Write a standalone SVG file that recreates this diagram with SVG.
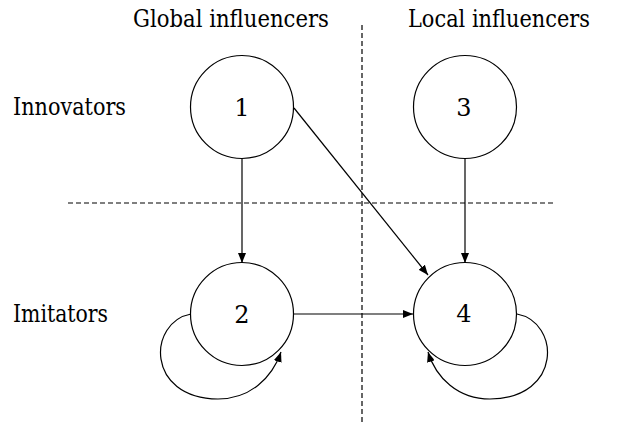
<svg xmlns="http://www.w3.org/2000/svg" width="626" height="426" viewBox="0 0 626 426">
  <defs>
    <marker id="arrow" viewBox="0 0 10 8" refX="10" refY="4" markerWidth="10" markerHeight="8" markerUnits="userSpaceOnUse" orient="auto">
      <path d="M0,0 L10,4 L0,8 Z" fill="#000"/>
    </marker>
  </defs>
  <style>
    .node circle { fill: #fff; stroke: #000; stroke-width: 1.2; }
    .edge { fill: none; stroke: #000; stroke-width: 1.2; marker-end: url(#arrow); }
    .divider { stroke: #000; stroke-width: 1.2; stroke-dasharray: 5,3; fill: none; }
    text { font-family: "DejaVu Serif", serif; fill: #000; }
  </style>
  <rect width="626" height="426" fill="#fff"/>

  <!-- quadrant dividers -->
  <g id="dividers">
    <line class="divider" x1="362" y1="25" x2="362" y2="422"/>
    <line class="divider" x1="68" y1="203" x2="556" y2="203"/>
  </g>

  <!-- axis labels -->
  <g id="labels" font-size="23.5">
    <text x="133" y="27" textLength="196" lengthAdjust="spacingAndGlyphs">Global influencers</text>
    <text x="408" y="27" textLength="182" lengthAdjust="spacingAndGlyphs">Local influencers</text>
    <text x="13" y="115" textLength="113" lengthAdjust="spacingAndGlyphs">Innovators</text>
    <text x="13" y="322" textLength="95" lengthAdjust="spacingAndGlyphs">Imitators</text>
  </g>

  <!-- connectors -->
  <g id="connectors">
    <line class="edge" x1="242" y1="158" x2="242" y2="263"/>
    <line class="edge" x1="465" y1="158" x2="465" y2="263"/>
    <line class="edge" x1="294" y1="108" x2="428" y2="275"/>
    <line class="edge" x1="294" y1="314" x2="413" y2="314"/>
    <path class="edge" d="M191,314 C148,322 145,398 218,399 C250,399 272,378 281,352"/>
    <path class="edge" d="M517,314 C560,322 563,398 490,399 C458,399 436,378 428,352"/>
  </g>

  <!-- nodes -->
  <g font-size="24" text-anchor="middle">
    <g id="node1" class="node">
      <circle cx="242" cy="107" r="51.5"/>
      <text x="242" y="116">1</text>
    </g>
    <g id="node3" class="node">
      <circle cx="465" cy="107" r="51.5"/>
      <text x="464" y="116">3</text>
    </g>
    <g id="node2" class="node">
      <circle cx="242" cy="314" r="51.5"/>
      <text x="242" y="323">2</text>
    </g>
    <g id="node4" class="node">
      <circle cx="465" cy="314" r="51.5"/>
      <text x="464" y="322">4</text>
    </g>
  </g>
</svg>
